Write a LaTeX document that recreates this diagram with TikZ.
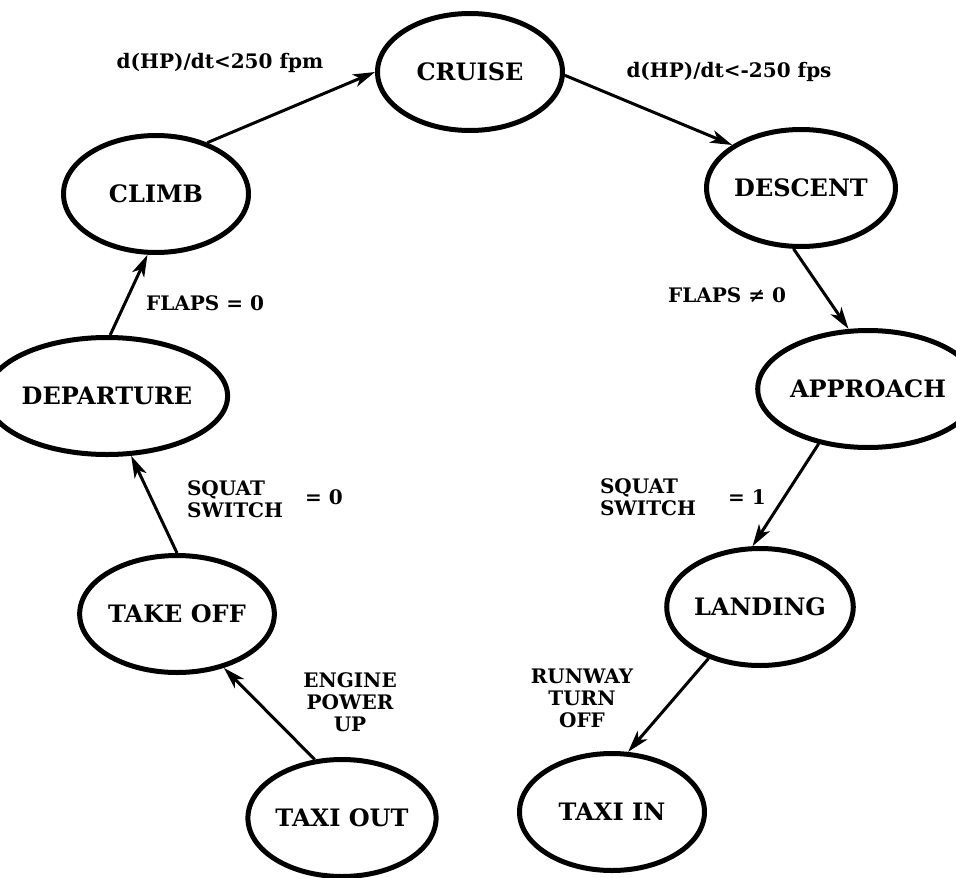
\documentclass[tikz,border=0pt]{standalone}
\usepackage{fontspec}
\setmainfont{DejaVu Serif}
\usetikzlibrary{arrows.meta, shapes}

\begin{document}
\begin{tikzpicture}[x=1pt,y=-1pt,font=\bfseries,>={Stealth[length=22pt,width=13pt,inset=6pt]},line width=3pt]
	
	\tikzset{phase st/.style={ellipse, draw, line width=5pt,
			inner sep=0pt, minimum width=185pt, minimum height=117pt,
			font=\fontsize{24}{28}\selectfont\bfseries}}
	\tikzset{cond lbl/.style={inner sep=0pt, align=center,
			font=\fontsize{20}{22}\selectfont\bfseries}}
	
	\useasboundingbox (0,0) rectangle (956,878);
	
	% flight phases
	\node[phase st] (CRUISE) at (470,72) {CRUISE};
	\node[phase st] (CLIMB) at (156,194) {CLIMB};
	\node[phase st] (DESCENT) at (801,188) {DESCENT};
	\node[phase st] (DEPARTURE) at (107,396) {DEPARTURE};
	\node[phase st] (APPROACH) at (868,389) {APPROACH};
	\node[phase st] (TAKEOFF) at (177,614) {TAKE OFF};
	\node[phase st] (LANDING) at (760,607) {LANDING};
	\node[phase st] (TAXIOUT) at (342,818) {TAXI OUT};
	\node[phase st] (TAXIIN) at (612,812) {TAXI IN};
	
	% transition conditions
	\node[cond lbl] (c1) at (220,63) {d(HP)/dt<250 fpm};
	\node[cond lbl] (c2) at (729,72) {d(HP)/dt<-250 fps};
	\node[cond lbl] (c3) at (205,303) {FLAPS = 0};
	\node[cond lbl] (c4) at (727,295) {FLAPS ≠ 0};
	\node[cond lbl, align=left] (c5) at (235,499) {SQUAT\\SWITCH};
	\node[cond lbl] (c5v) at (324,497) {= 0};
	\node[cond lbl, align=left] (c6) at (648,497) {SQUAT\\SWITCH};
	\node[cond lbl] (c6v) at (747,497) {= 1};
	\node[cond lbl] (c7) at (350,702) {ENGINE\\POWER\\UP};
	\node[cond lbl] (c8) at (582,698) {RUNWAY\\TURN\\OFF};
	
	\draw
	(TAXIOUT.115) edge[->] (TAKEOFF.-49)
	(TAKEOFF.90) edge[->] (DEPARTURE.-68)
	(DEPARTURE.87) edge[->] (CLIMB.-98)
	(CLIMB.45) edge[->] (CRUISE.180)
	(CRUISE.-2) edge[->] (DESCENT.148)
	(DESCENT.-97) edge[->] (APPROACH.108)
	(APPROACH.-132) edge[->] (LANDING.97)
	(LANDING.-135) edge[->] (TAXIIN.75);
\end{tikzpicture}
\end{document}
